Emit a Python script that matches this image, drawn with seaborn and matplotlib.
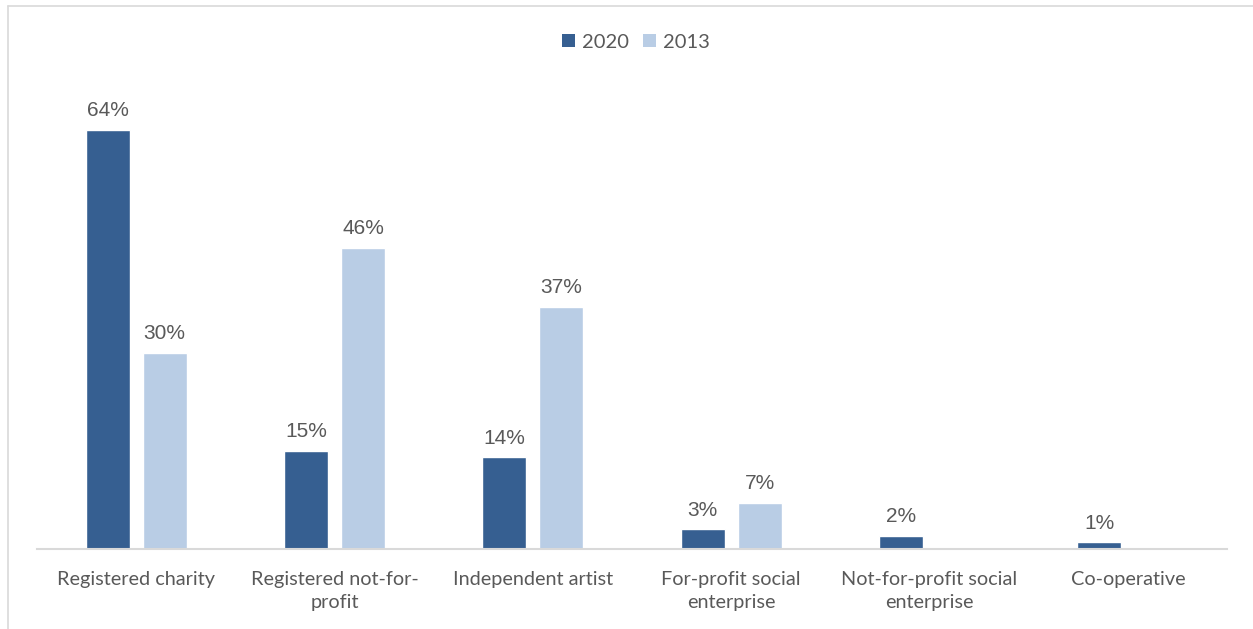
import matplotlib
matplotlib.use("Agg")
import matplotlib.pyplot as plt
from matplotlib.lines import Line2D
from matplotlib.patches import Patch
import seaborn as sns
import pandas as pd

categories = [
    "Registered charity",
    "Registered not-for-\nprofit",
    "Independent artist",
    "For-profit social\nenterprise",
    "Not-for-profit social\nenterprise",
    "Co-operative",
]
years = ["2020", "2013"]
values_2020 = [64, 15, 14, 3, 2, 1]
values_2013 = [30, 46, 37, 7, None, None]

colors = {"2020": "#365F91", "2013": "#B9CDE5"}
text_color = "#595959"

rows = []
for cat, v20, v13 in zip(categories, values_2020, values_2013):
    rows.append({"category": cat, "year": "2020", "value": v20})
    if v13 is not None:
        rows.append({"category": cat, "year": "2013", "value": v13})
df = pd.DataFrame(rows)

sns.set_theme(style="white")
plt.rcParams["font.family"] = ["Lato", "DejaVu Sans"]

W, H = 1253, 629
fig = plt.figure(figsize=(W / 100, H / 100), dpi=100)
ax = fig.add_axes([37 / W, 1 - 549 / H, 1190 / W, 458.5 / H])

sns.barplot(
    data=df, x="category", y="value", hue="year", order=categories,
    hue_order=years, palette=colors, width=0.575, gap=0.23,
    saturation=1, legend=False, ax=ax,
)

ax.set_ylim(0, 70)
ax.set_xlim(-0.5, len(categories) - 0.5)
ax.set_xlabel("")
ax.set_ylabel("")
ax.set_yticks([])
for side in ["top", "right", "left"]:
    ax.spines[side].set_visible(False)
ax.spines["bottom"].set_color("#D9D9D9")
ax.spines["bottom"].set_linewidth(1.5)
ax.tick_params(axis="x", length=0, pad=16, labelsize=14.3, colors=text_color)
for lbl in ax.get_xticklabels():
    lbl.set_fontfamily(["Lato", "DejaVu Sans"])
    lbl.set_linespacing(1.4)
    lbl.set_verticalalignment("top")

for container in ax.containers:
    labels = [f"{int(v)}%" for v in container.datavalues]
    ax.bar_label(container, labels=labels, padding=7, fontsize=15,
                 color=text_color, family=["Liberation Sans", "DejaVu Sans"])

handles = [Patch(facecolor=colors[y], edgecolor="none") for y in years]
fig.legend(handles, years, loc="center", bbox_to_anchor=(636 / W, 1 - 42 / H),
           ncol=2, frameon=False, fontsize=14.5, handlelength=0.65,
           handleheight=0.65, handletextpad=0.35, columnspacing=0.7,
           labelcolor=text_color)

# thin frame along the top and left edges
fig.add_artist(Line2D([8 / W, 1], [1 - 6 / H, 1 - 6 / H], color="#D9D9D9",
                      lw=1.2, transform=fig.transFigure))
fig.add_artist(Line2D([8 / W, 8 / W], [0, 1 - 6 / H], color="#D9D9D9",
                      lw=1.2, transform=fig.transFigure))

fig.savefig("out.png", dpi=100, facecolor="white")
